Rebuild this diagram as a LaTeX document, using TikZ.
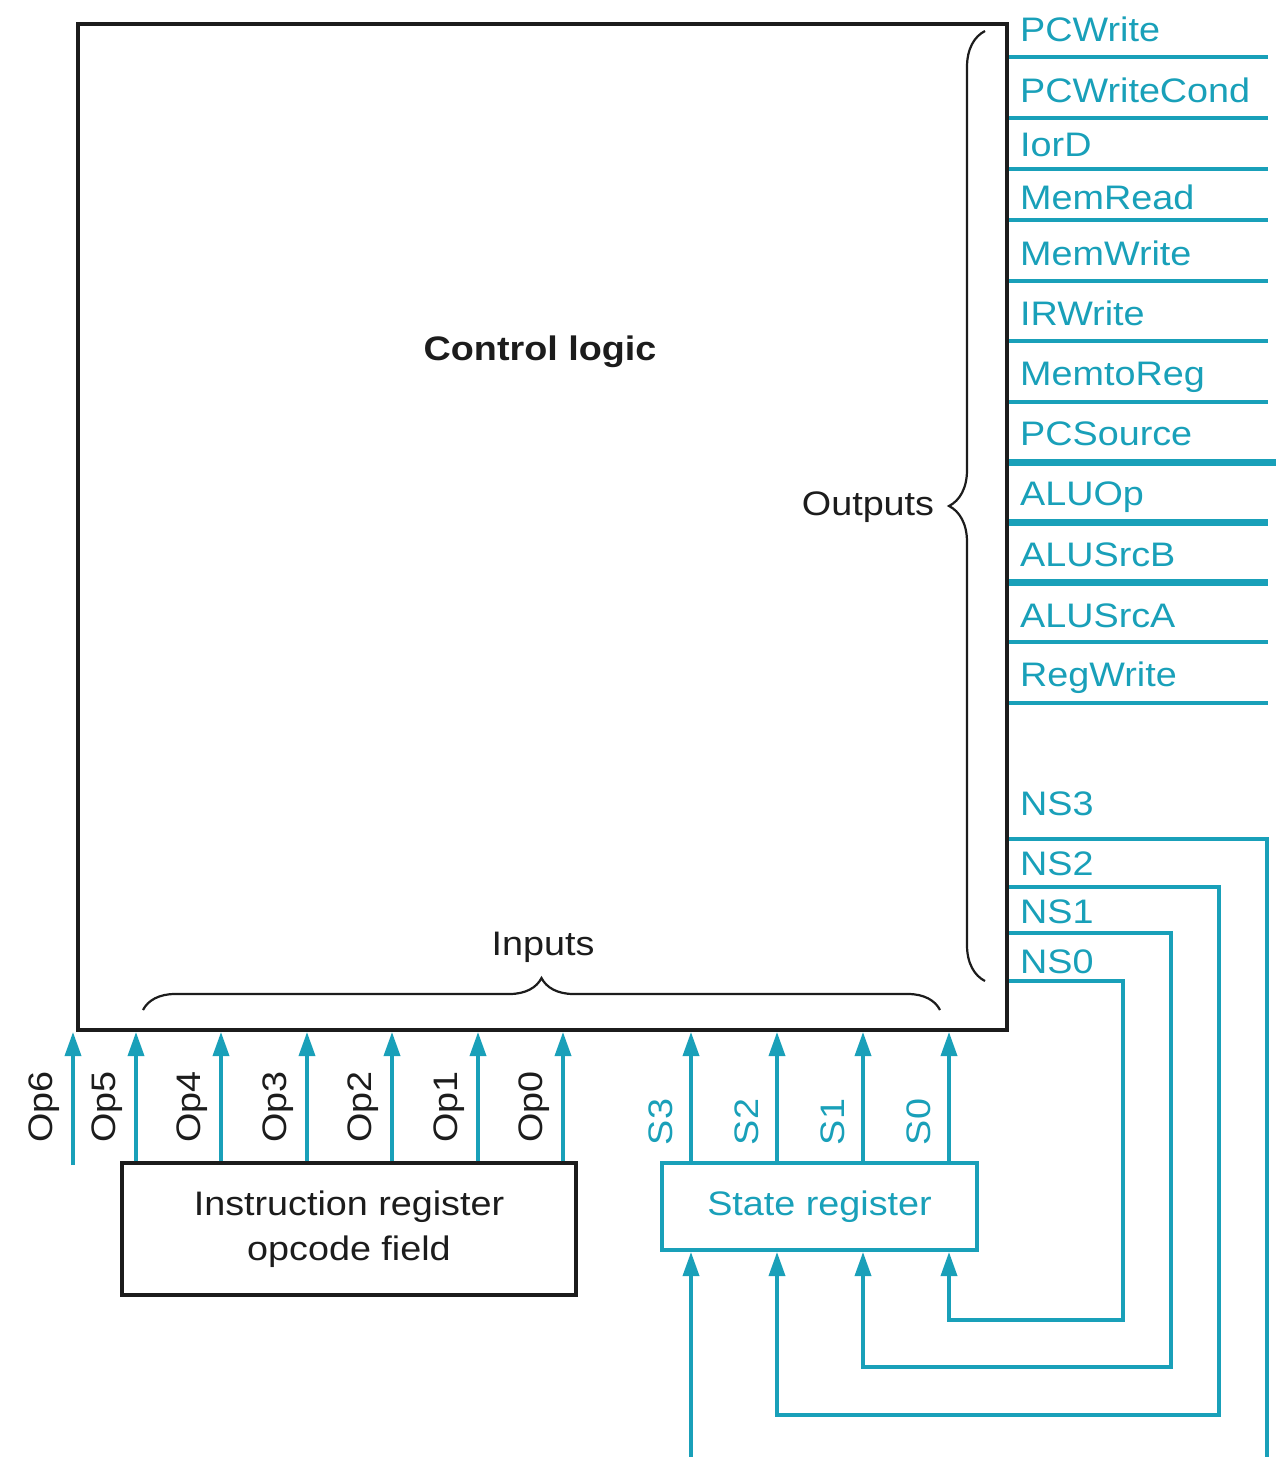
\documentclass[tikz,border=0pt]{standalone}
\usepackage{fontspec}
\setmainfont{Liberation Sans}[FakeStretch=1.11]
\usetikzlibrary{arrows.meta,decorations.pathreplacing}
\definecolor{wire}{RGB}{25,160,185}
\definecolor{ink}{RGB}{28,28,28}
\begin{document}
\begin{tikzpicture}[x=1pt,y=-1pt,
  txt/.style={font=\fontsize{34}{45}\selectfont, inner sep=0pt},
  sig/.style={txt, text=wire, anchor=base west},
  thinw/.style={draw=wire, line width=3.5pt},
  thickw/.style={draw=wire, line width=7pt},
  arr/.style={draw=wire, line width=3.5pt, -{Triangle[length=24pt,width=16pt]}},
  brc/.style={draw=ink, line width=2.2pt, decorate, decoration={brace, amplitude=#1}},
]
\useasboundingbox[fill=white] (0,0) rectangle (1282,1457);

% control logic block
\node[draw=ink, line width=4pt, minimum width=929pt, minimum height=1006pt, inner sep=0pt, anchor=north west] (ctrl) at (76,22) {};
\node[txt, font=\fontsize{34}{40}\selectfont\bfseries, text=ink] (title) at (540,352) {Control logic};
\node[txt, text=ink] (outl) at (868,507) {Outputs};
\node[txt, text=ink] (inl) at (543,947) {Inputs};

% braces
\draw[brc=36pt] (985,981) -- (985,31);
\draw[brc=32pt] (143,1010) -- (940,1010);

% output signals
\foreach \t/\ly/\by/\w/\ex [count=\i] in {PCWrite/57/41/thinw/1268, PCWriteCond/118/102/thinw/1268, IorD/169/156/thinw/1268, MemRead/220/209/thinw/1268, MemWrite/281/265/thinw/1268, IRWrite/341/325/thinw/1268, MemtoReg/402/385/thinw/1268, PCSource/462/445/thickw/1276, ALUOp/522/505/thickw/1268, ALUSrcB/582/566/thickw/1268, ALUSrcA/642/627/thinw/1268, RegWrite/703/686/thinw/1268}{
  \coordinate (oe\i) at (\ex,\ly);
  \draw[\w] (ctrl.east |- oe\i) -- (oe\i);
  \node[sig] (ol\i) at (1020,\by) {\t};
}

% registers
\node[draw=wire, line width=4pt, minimum width=315pt, minimum height=87pt, txt, text=wire] (sr) at (819.5,1206.5) {State register};
\node[draw=ink, line width=3.5pt, minimum width=454pt, minimum height=132pt, txt, text=ink, align=center] (ir) at (349,1229) {Instruction register\\opcode field};

% next state labels and feedback wires
\node[sig] (nsl3) at (1020,815) {NS3};
\node[sig] (nsl2) at (1020,875) {NS2};
\node[sig] (nsl1) at (1020,923) {NS1};
\node[sig] (nsl0) at (1020,973) {NS0};

\coordinate (ns3c) at (1267,839);
\coordinate (ns3e) at (1267,1457);
\coordinate (s3in) at (691,1457);
\coordinate (ns2c) at (1219,887);
\coordinate (ns2r) at (777,1415);
\coordinate (ns1c) at (1171,933);
\coordinate (ns1r) at (863,1367);
\coordinate (ns0c) at (1123,981);
\coordinate (ns0r) at (949,1320);

\draw[thinw] (ctrl.east |- ns3c) -- (ns3c) -- (ns3e);
\draw[arr] (s3in) -- (sr.south -| s3in);
\draw[arr] (ctrl.east |- ns2c) -- (ns2c) |- (ns2r) -- (sr.south -| ns2r);
\draw[arr] (ctrl.east |- ns1c) -- (ns1c) |- (ns1r) -- (sr.south -| ns1r);
\draw[arr] (ctrl.east |- ns0c) -- (ns0c) |- (ns0r) -- (sr.south -| ns0r);

% opcode inputs
\coordinate (op6s) at (73,1165);
\draw[arr] (op6s) -- (ctrl.south -| op6s);
\node[txt, text=ink, rotate=90] (opl6) at (44,1107) {Op6};
\foreach \n/\xx in {5/136,4/221,3/307,2/392,1/478,0/563}{
  \coordinate (opx\n) at (\xx,0);
  \draw[arr] (ir.north -| opx\n) -- (ctrl.south -| opx\n);
  \node[txt, text=ink, rotate=90] (opl\n) at (\xx-29,1107) {Op\n};
}

% state inputs
\foreach \n/\xx in {3/691,2/777,1/863,0/949}{
  \coordinate (sx\n) at (\xx,0);
  \draw[arr] (sr.north -| sx\n) -- (ctrl.south -| sx\n);
  \node[txt, text=wire, rotate=90] (sl\n) at (\xx-30,1122) {S\n};
}
\end{tikzpicture}
\end{document}
